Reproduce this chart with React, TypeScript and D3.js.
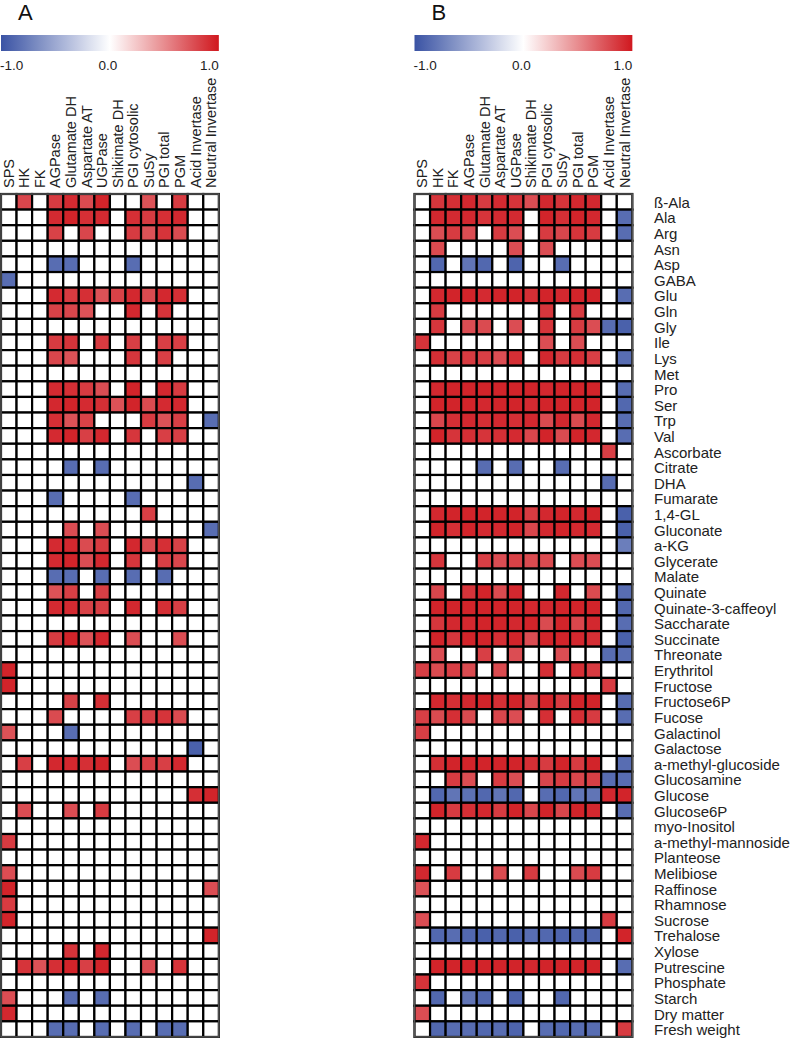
import React from 'react';
import * as d3 from 'd3';

// enzyme activities (columns)
const enzymes = [
  'SPS', 'HK', 'FK', 'AGPase', 'Glutamate DH', 'Aspartate AT', 'UGPase',
  'Shikimate DH', 'PGI cytosolic', 'SuSy', 'PGI total', 'PGM',
  'Acid Invertase', 'Neutral Invertase',
];

// metabolites / traits (rows)
const metabolites = [
  'ß-Ala', 'Ala', 'Arg', 'Asn', 'Asp', 'GABA', 'Glu', 'Gln', 'Gly', 'Ile', 'Lys',
  'Met', 'Pro', 'Ser', 'Trp', 'Val', 'Ascorbate', 'Citrate', 'DHA', 'Fumarate',
  '1,4-GL', 'Gluconate', 'a-KG', 'Glycerate', 'Malate', 'Quinate',
  'Quinate-3-caffeoyl', 'Saccharate', 'Succinate', 'Threonate', 'Erythritol',
  'Fructose', 'Fructose6P', 'Fucose', 'Galactinol', 'Galactose',
  'a-methyl-glucoside', 'Glucosamine', 'Glucose', 'Glucose6P', 'myo-Inositol',
  'a-methyl-mannoside', 'Planteose', 'Melibiose', 'Raffinose', 'Rhamnose',
  'Sucrose', 'Trehalose', 'Xylose', 'Putrescine', 'Phosphate', 'Starch',
  'Dry matter', 'Fresh weight',
];

const colorTicks = ['-1.0', '0.0', '1.0'];
const panelNames = ['A', 'B'];

// correlations, panel A (one row per metabolite, 0 = not significant)
const panelA = [
  [0, .8, 0, .85, .92, .78, .95, 0, 0, .75, 0, .85, 0, 0],
  [0, 0, 0, .92, .95, .9, .92, 0, .9, .85, .9, .93, 0, 0],
  [0, 0, 0, .82, 0, .8, 0, 0, .85, .75, .88, .78, 0, 0],
  [0, 0, 0, 0, 0, 0, 0, 0, 0, 0, 0, 0, 0, 0],
  [0, 0, 0, -.85, -.85, 0, 0, 0, -.85, 0, 0, 0, 0, 0],
  [-.85, 0, 0, 0, 0, 0, 0, 0, 0, 0, 0, 0, 0, 0],
  [0, 0, 0, .92, .85, .9, .75, .82, .93, .78, .93, .9, 0, 0],
  [0, 0, 0, .82, .8, .75, 0, 0, .93, 0, .88, 0, 0, 0],
  [0, 0, 0, 0, 0, 0, 0, 0, 0, 0, 0, 0, 0, 0],
  [0, 0, 0, .85, .88, 0, .85, 0, .83, 0, .83, .83, 0, 0],
  [0, 0, 0, .8, .75, 0, 0, 0, .87, 0, .83, 0, 0, 0],
  [0, 0, 0, 0, 0, 0, 0, 0, 0, 0, 0, 0, 0, 0],
  [0, 0, 0, .92, .9, .85, .77, 0, .95, 0, .93, .85, 0, 0],
  [0, 0, 0, .93, .95, .92, .9, .75, .95, .78, .92, .93, 0, 0],
  [0, 0, 0, .9, .75, .82, 0, 0, 0, .85, .75, .83, 0, -.85],
  [0, 0, 0, .92, .95, .83, .93, 0, .87, 0, .83, .83, 0, 0],
  [0, 0, 0, 0, 0, 0, 0, 0, 0, 0, 0, 0, 0, 0],
  [0, 0, 0, 0, -.85, 0, -.85, 0, 0, 0, 0, 0, 0, 0],
  [0, 0, 0, 0, 0, 0, 0, 0, 0, 0, 0, 0, -.85, 0],
  [0, 0, 0, -.85, 0, 0, 0, 0, -.85, 0, 0, 0, 0, 0],
  [0, 0, 0, 0, 0, 0, 0, 0, 0, .83, 0, 0, 0, 0],
  [0, 0, 0, 0, .77, 0, .77, 0, 0, 0, 0, 0, 0, -.85],
  [0, 0, 0, .92, .93, .78, .85, 0, .93, .78, .9, .82, 0, 0],
  [0, 0, 0, .92, .95, .77, .93, 0, .87, 0, .83, .8, 0, 0],
  [0, 0, 0, -.85, -.85, 0, -.85, 0, -.85, 0, -.85, 0, 0, 0],
  [0, 0, 0, .75, .83, 0, .83, 0, 0, 0, 0, 0, 0, 0],
  [0, 0, 0, .92, .92, .82, .83, 0, .93, 0, .9, .83, 0, 0],
  [0, 0, 0, 0, 0, 0, 0, 0, 0, 0, 0, 0, 0, 0],
  [0, 0, 0, .85, .95, .75, .93, 0, .77, 0, 0, .77, 0, 0],
  [0, 0, 0, 0, 0, 0, 0, 0, 0, 0, 0, 0, 0, 0],
  [.95, 0, 0, 0, 0, 0, 0, 0, 0, 0, 0, 0, 0, 0],
  [.95, 0, 0, 0, 0, 0, 0, 0, 0, 0, 0, 0, 0, 0],
  [0, 0, 0, 0, .82, 0, .9, 0, 0, 0, 0, 0, 0, 0],
  [0, 0, 0, .78, 0, 0, 0, 0, .83, .83, .88, .78, 0, 0],
  [.75, 0, 0, 0, -.85, 0, 0, 0, 0, 0, 0, 0, 0, 0],
  [0, 0, 0, 0, 0, 0, 0, 0, 0, 0, 0, 0, -.92, 0],
  [0, .83, 0, .93, .93, .9, .95, 0, .77, .83, .83, .93, 0, 0],
  [0, 0, 0, 0, 0, 0, 0, 0, 0, 0, 0, 0, 0, 0],
  [0, 0, 0, 0, 0, 0, 0, 0, 0, 0, 0, 0, .9, .95],
  [0, .77, 0, 0, .77, 0, .85, 0, 0, 0, 0, 0, 0, 0],
  [0, 0, 0, 0, 0, 0, 0, 0, 0, 0, 0, 0, 0, 0],
  [.85, 0, 0, 0, 0, 0, 0, 0, 0, 0, 0, 0, 0, 0],
  [0, 0, 0, 0, 0, 0, 0, 0, 0, 0, 0, 0, 0, 0],
  [.77, 0, 0, 0, 0, 0, 0, 0, 0, 0, 0, 0, 0, 0],
  [.95, 0, 0, 0, 0, 0, 0, 0, 0, 0, 0, 0, 0, .77],
  [.85, 0, 0, 0, 0, 0, 0, 0, 0, 0, 0, 0, 0, 0],
  [.95, 0, 0, 0, 0, 0, 0, 0, 0, 0, 0, 0, 0, 0],
  [0, 0, 0, 0, 0, 0, 0, 0, 0, 0, 0, 0, 0, .95],
  [0, 0, 0, 0, .88, 0, .93, 0, 0, 0, 0, 0, 0, 0],
  [0, .88, .75, .9, .95, .83, .95, 0, 0, .77, 0, .88, 0, 0],
  [0, 0, 0, 0, 0, 0, 0, 0, 0, 0, 0, 0, 0, 0],
  [.77, 0, 0, 0, -.85, 0, -.85, 0, 0, 0, 0, 0, 0, 0],
  [.93, 0, 0, 0, 0, 0, 0, 0, 0, 0, 0, 0, 0, 0],
  [0, 0, 0, -.85, -.85, 0, -.85, 0, -.85, 0, -.85, -.85, 0, 0],
];

// correlations, panel B
const panelB = [
  [0, .87, .9, .93, .85, .92, .88, .77, .93, .88, .93, .93, 0, 0],
  [0, .93, .92, .93, .88, .92, .92, 0, .95, .9, .95, .93, 0, -.85],
  [0, .77, .85, .77, 0, .85, .77, 0, .85, .8, .88, .85, 0, -.85],
  [0, .78, 0, 0, 0, 0, .77, 0, .77, 0, 0, 0, 0, 0],
  [0, -.88, 0, -.8, -.88, 0, -.9, 0, 0, -.85, 0, 0, 0, 0],
  [0, 0, 0, 0, 0, 0, 0, 0, 0, 0, 0, 0, 0, 0],
  [0, .93, .95, .95, .92, .95, .95, .9, .95, .93, .95, .95, 0, -.85],
  [0, .85, 0, 0, 0, 0, 0, 0, .87, 0, .85, 0, 0, 0],
  [0, .87, 0, .77, .78, 0, .77, 0, .88, 0, .85, .77, -.85, -.92],
  [.88, 0, 0, 0, 0, 0, 0, 0, .77, 0, .77, 0, 0, 0],
  [0, .9, .82, .85, .83, .77, .9, 0, .93, .85, .9, .83, 0, -.85],
  [0, 0, 0, 0, 0, 0, 0, 0, 0, 0, 0, 0, 0, 0],
  [0, .93, .95, .95, .95, .95, .95, .95, .93, .95, .95, .95, 0, -.85],
  [0, .95, .95, .95, .93, .95, .95, .92, .95, .95, .95, .95, 0, -.88],
  [0, .8, .9, .93, .9, .93, .9, .93, .78, .93, .78, .93, 0, -.85],
  [0, .95, .88, .9, .88, .9, .92, .8, .95, .78, .95, .93, 0, -.85],
  [0, 0, 0, 0, 0, 0, 0, 0, 0, 0, 0, 0, .83, 0],
  [0, 0, 0, 0, -.85, 0, -.85, 0, 0, -.85, 0, 0, 0, 0],
  [0, 0, 0, 0, 0, 0, 0, 0, 0, 0, 0, 0, -.85, 0],
  [0, 0, 0, 0, 0, 0, 0, 0, 0, 0, 0, 0, 0, 0],
  [0, .93, .95, .95, .95, .95, .95, .85, .93, .95, .93, .95, 0, -.92],
  [0, .95, .9, .95, .92, .93, .95, .8, .93, .95, .93, .92, 0, -.92],
  [0, 0, 0, 0, 0, 0, 0, 0, 0, 0, 0, 0, 0, -.75],
  [0, .87, 0, 0, .83, .77, .82, .78, .78, 0, .77, .77, 0, 0],
  [0, 0, 0, 0, 0, 0, 0, 0, 0, 0, 0, 0, 0, 0],
  [0, .8, 0, .88, .95, .78, .93, 0, 0, .93, 0, .78, 0, -.85],
  [0, .95, .95, .95, .95, .95, .95, .93, .93, .95, .95, .95, 0, -.88],
  [0, .87, .93, .93, .95, .95, .93, .95, .78, .95, .8, .93, 0, -.85],
  [0, .95, .87, .95, .95, .9, .95, .77, .95, .95, .93, .9, 0, -.92],
  [0, .77, 0, 0, .83, 0, .77, 0, 0, .77, 0, 0, -.85, -.85],
  [.83, .78, .83, .78, 0, .78, 0, 0, .9, 0, .9, .85, 0, 0],
  [0, 0, 0, 0, 0, 0, 0, 0, 0, 0, 0, 0, .85, 0],
  [0, .93, .9, .93, .95, .9, .95, .78, .95, .85, .95, .95, 0, -.85],
  [.83, .78, .9, .78, 0, .8, .77, 0, .9, 0, .9, .85, 0, -.85],
  [.83, 0, 0, 0, 0, 0, 0, 0, 0, 0, 0, 0, 0, 0],
  [0, 0, 0, 0, 0, 0, 0, 0, 0, 0, 0, 0, 0, 0],
  [0, .9, .95, .95, .95, .95, .95, .9, .85, .95, .85, .95, 0, -.85],
  [0, 0, .85, .77, 0, .85, .77, 0, .8, .85, .8, .83, -.85, -.85],
  [0, -.88, -.8, -.82, -.88, -.8, -.88, 0, -.85, -.88, -.8, -.8, .93, .95],
  [0, .95, .85, .9, .93, .85, .95, .8, .95, .8, .95, .93, 0, -.85],
  [0, 0, 0, 0, 0, 0, 0, 0, 0, 0, 0, 0, 0, 0],
  [.93, 0, 0, 0, 0, 0, 0, 0, 0, 0, 0, 0, 0, 0],
  [0, 0, 0, 0, 0, 0, 0, 0, 0, 0, 0, 0, 0, 0],
  [.93, 0, .85, 0, 0, .78, 0, .85, 0, 0, .78, .85, 0, 0],
  [.75, 0, 0, 0, 0, 0, 0, 0, 0, 0, 0, 0, 0, 0],
  [0, 0, 0, 0, 0, 0, 0, 0, 0, 0, 0, 0, 0, 0],
  [.77, 0, 0, 0, 0, 0, 0, 0, 0, 0, 0, 0, .85, 0],
  [0, -.88, -.85, -.88, -.92, -.88, -.92, -.85, -.88, -.9, -.88, -.88, 0, .95],
  [0, 0, 0, 0, 0, 0, 0, 0, 0, 0, 0, 0, 0, 0],
  [0, .95, .95, .95, .95, .95, .95, .93, .95, .95, .95, .95, 0, -.85],
  [.88, 0, 0, 0, 0, 0, 0, 0, 0, 0, 0, 0, 0, 0],
  [0, -.88, 0, -.8, -.88, 0, -.9, 0, 0, -.88, 0, 0, 0, 0],
  [.77, 0, 0, 0, 0, 0, 0, 0, 0, 0, 0, 0, 0, 0],
  [0, -.88, -.85, -.85, -.88, -.85, -.9, 0, -.85, -.88, -.85, -.85, 0, .85],
];

const W = 791;
const H = 1038;
const FONT = '"Liberation Sans", Arial, sans-serif';

export default function App() {
  const color = d3
    .scaleLinear<string>()
    .domain([-1, 0, 1])
    .range(['#3a53a4', '#ffffff', '#d0181f']);

  const cw = 15.56;
  const gridTop = 194;
  const gridBottom = gridTop + metabolites.length * 15.61;
  const y = d3.scaleBand().domain(metabolites).range([gridTop, gridBottom]);

  const panels = [
    { name: panelNames[0], x0: 1, data: panelA },
    { name: panelNames[1], x0: 414.5, data: panelB },
  ];

  const stops = d3.range(0, 1.0001, 0.05);

  return (
    <svg
      width={W}
      height={H}
      style={{ position: 'absolute', left: 0, top: 0, background: '#fff' }}
      fontFamily={FONT}
    >
      <defs>
        <linearGradient id="cbar" x1="0" x2="1" y1="0" y2="0">
          {stops.map((t) => (
            <stop key={t} offset={t} stopColor={color(t * 2 - 1)} />
          ))}
        </linearGradient>
      </defs>
      {panels.map((p) => {
        const x = d3
          .scaleBand()
          .domain(enzymes)
          .range([p.x0, p.x0 + enzymes.length * cw]);
        const [left, right] = x.range();
        return (
          <g key={p.name}>
            <text x={left + 17} y={20} fontSize={22} fill="#111">
              {p.name}
            </text>
            {/* colour key */}
            <rect x={left} y={35} width={right - left} height={16} fill="url(#cbar)" />
            {colorTicks.map((t, i) => (
              <text
                key={t}
                x={i === 0 ? left - 1 : i === 1 ? (left + right) / 2 - 2 : right}
                y={70}
                fontSize={13.5}
                fill="#222"
                textAnchor={i === 0 ? 'start' : i === 1 ? 'middle' : 'end'}
              >
                {t}
              </text>
            ))}
            {/* column labels */}
            {enzymes.map((e) => (
              <text
                key={e}
                transform={`translate(${(x(e) as number) + x.bandwidth() / 2 + 5},188) rotate(-90)`}
                fontSize={14.5}
                fill="#222"
              >
                {e}
              </text>
            ))}
            {/* cells */}
            {metabolites.map((m, r) =>
              enzymes.map((e, c) => (
                <rect
                  key={m + e}
                  x={x(e)}
                  y={y(m)}
                  width={x.bandwidth()}
                  height={y.bandwidth()}
                  fill={color(p.data[r][c])}
                  stroke="#000"
                  strokeWidth={2.2}
                />
              )),
            )}
            <rect
              x={left}
              y={gridTop}
              width={right - left}
              height={gridBottom - gridTop}
              fill="none"
              stroke="#555"
              strokeWidth={1.5}
            />
          </g>
        );
      })}
      {/* row labels */}
      {metabolites.map((m) => (
        <text
          key={m}
          x={654}
          y={(y(m) as number) + y.bandwidth() / 2 + 6}
          fontSize={15}
          fill="#222"
        >
          {m}
        </text>
      ))}
    </svg>
  );
}
